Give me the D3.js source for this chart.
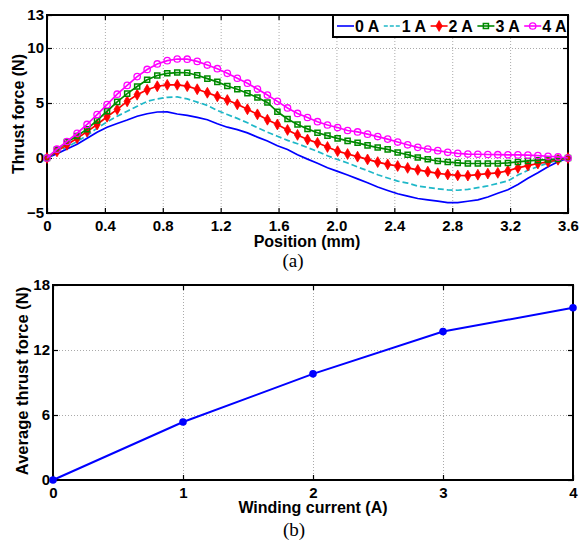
<!DOCTYPE html>
<html>
<head>
<meta charset="utf-8">
<script src="https://cdn.jsdelivr.net/npm/d3@7"></script>
<style>
  body { margin: 0; background: #fff; }
</style>
</head>
<body>
<svg id="chart" width="581" height="542" font-family="Liberation Sans, Arial, sans-serif"></svg>
<script>
// ---- data (a): thrust force vs position, one array per winding current
const positions = [0, 0.069, 0.138, 0.208, 0.277, 0.346, 0.415, 0.485, 0.554, 0.623,
  0.692, 0.762, 0.831, 0.900, 0.969, 1.038, 1.108, 1.177, 1.246, 1.315,
  1.385, 1.454, 1.523, 1.592, 1.662, 1.731, 1.800, 1.869, 1.938, 2.008,
  2.077, 2.146, 2.215, 2.285, 2.354, 2.423, 2.492, 2.562, 2.631, 2.700,
  2.769, 2.838, 2.908, 2.977, 3.046, 3.115, 3.185, 3.254, 3.323, 3.392,
  3.462, 3.531, 3.600];

const force0A = [0, 0.4, 0.82, 1.25, 1.8, 2.35, 2.8, 3.13, 3.45, 3.8,
  4.02, 4.18, 4.2, 4.0, 3.88, 3.7, 3.48, 3.12, 2.8, 2.58,
  2.28, 1.9, 1.55, 1.12, 0.78, 0.3, -0.1, -0.47, -0.88, -1.22,
  -1.55, -1.9, -2.25, -2.63, -2.95, -3.25, -3.47, -3.68, -3.8, -3.92,
  -4.05, -4.05, -3.93, -3.8, -3.55, -3.2, -2.88, -2.4, -1.85, -1.35,
  -0.8, -0.35, 0];

const force1A = [0, 0.5, 1.0, 1.5, 2.05, 2.72, 3.28, 3.8, 4.25, 4.7,
  5.15, 5.37, 5.52, 5.55, 5.37, 5.08, 4.78, 4.33, 3.95, 3.6,
  3.2, 2.75, 2.35, 1.98, 1.6, 1.3, 0.95, 0.6, 0.2, -0.14,
  -0.45, -0.82, -1.15, -1.52, -1.82, -2.1, -2.28, -2.55, -2.68, -2.8,
  -2.9, -2.93, -2.86, -2.7, -2.53, -2.32, -2.08, -1.55, -1.12, -0.78,
  -0.45, -0.2, 0];

const force2A = [0, 0.6, 1.2, 1.8, 2.4, 3.05, 3.75, 4.42, 5.15, 5.75,
  6.2, 6.52, 6.65, 6.65, 6.53, 6.25, 5.93, 5.6, 5.27, 4.88,
  4.43, 3.97, 3.48, 3.05, 2.55, 2.1, 1.68, 1.38, 1.0, 0.62,
  0.36, 0.12, -0.13, -0.37, -0.58, -0.73, -0.9, -1.08, -1.24, -1.39,
  -1.5, -1.58, -1.6, -1.52, -1.42, -1.35, -1.16, -0.9, -0.69, -0.5,
  -0.35, -0.16, 0];

const force3A = [0, 0.75, 1.45, 2.0, 2.62, 3.42, 4.25, 5.1, 5.85, 6.5,
  7.12, 7.5, 7.7, 7.77, 7.75, 7.52, 7.22, 6.92, 6.55, 6.25,
  5.88, 5.5, 5.05, 4.2, 3.55, 3.05, 2.65, 2.3, 2.03, 1.78,
  1.56, 1.38, 1.15, 0.95, 0.78, 0.5, 0.3, 0.05, -0.12, -0.27,
  -0.37, -0.44, -0.5, -0.5, -0.5, -0.5, -0.45, -0.36, -0.27, -0.2,
  -0.14, -0.08, 0];

const force4A = [0, 0.8, 1.5, 2.25, 3.05, 3.95, 4.85, 5.8, 6.6, 7.4,
  8.05, 8.55, 8.85, 9.0, 8.98, 8.78, 8.45, 8.12, 7.7, 7.25,
  6.8, 6.27, 5.72, 5.15, 4.55, 4.05, 3.68, 3.3, 3.0, 2.77,
  2.5, 2.37, 2.17, 1.95, 1.72, 1.45, 1.2, 0.97, 0.82, 0.67,
  0.52, 0.42, 0.36, 0.34, 0.32, 0.3, 0.29, 0.28, 0.26, 0.22,
  0.16, 0.1, 0];

const seriesNames = ["0 A", "1 A", "2 A", "3 A", "4 A"];
const posTicks = [0, 0.4, 0.8, 1.2, 1.6, 2.0, 2.4, 2.8, 3.2, 3.6];
const posTickLabels = ["0", "0.4", "0.8", "1.2", "1.6", "2.0", "2.4", "2.8", "3.2", "3.6"];
const forceTicks = [-5, 0, 5, 10, 13];

// ---- data (b): average thrust force vs winding current
const currents = [0, 1, 2, 3, 4];
const avgForce = [0, 5.35, 9.8, 13.7, 15.9];
const avgTicks = [0, 6, 12, 18];

const SANS = "Liberation Sans, Arial, sans-serif";
const SERIF = "Liberation Serif, Times New Roman, serif";

const svg = d3.select("#chart");

// matlab-like frame: box, dotted grid, inward ticks on all four sides
function frame(g, x, y, xTicks, yTicks, xFmt) {
  const [x0, x1] = x.range();
  const [y0, y1] = y.range();
  const w = x1 - x0, h = y0 - y1;

  // dotted grid
  g.append("g").attr("transform", `translate(0,${y0})`)
    .call(d3.axisBottom(x).tickValues(xTicks).tickSize(-h).tickFormat(""))
    .call(s => s.select(".domain").remove())
    .selectAll("line").attr("stroke", "#aaa").attr("stroke-dasharray", "1,2");
  g.append("g").attr("transform", `translate(${x0},0)`)
    .call(d3.axisLeft(y).tickValues(yTicks).tickSize(-w).tickFormat(""))
    .call(s => s.select(".domain").remove())
    .selectAll("line").attr("stroke", "#aaa").attr("stroke-dasharray", "1,2");

  const xa = g.append("g").attr("transform", `translate(0,${y0})`)
    .call(d3.axisBottom(x).tickValues(xTicks).tickSize(-5).tickPadding(7).tickFormat(xFmt));
  const ya = g.append("g").attr("transform", `translate(${x0},0)`)
    .call(d3.axisLeft(y).tickValues(yTicks).tickSize(-5).tickPadding(3));
  const xt = g.append("g").attr("transform", `translate(0,${y1})`)
    .call(d3.axisTop(x).tickValues(xTicks).tickSize(-5).tickFormat(""));
  const yr = g.append("g").attr("transform", `translate(${x1},0)`)
    .call(d3.axisRight(y).tickValues(yTicks).tickSize(-5).tickFormat(""));

  [xa, ya, xt, yr].forEach(a => {
    a.attr("font-family", SANS).attr("font-size", 15);
    a.select(".domain").remove();
    a.selectAll("line").attr("stroke", "#000").attr("stroke-width", 1.2);
    a.selectAll("text").attr("font-weight", "bold").attr("fill", "#000");
  });

  g.append("rect")
    .attr("x", x0).attr("y", y1).attr("width", w).attr("height", h)
    .attr("fill", "none").attr("stroke", "#000").attr("stroke-width", 2);
}

// ================= chart (a) =================
const xA = d3.scaleLinear().domain([0, 3.6]).range([47, 568]);
const yA = d3.scaleLinear().domain([-5, 13]).range([213, 15]);

const gA = svg.append("g");
frame(gA, xA, yA, posTicks, forceTicks, (d, i) => posTickLabels[i]);

const styles = [
  { color: "#0000ff", dash: null, marker: null },
  { color: "#1fb8c8", dash: "6,3", marker: null },
  { color: "#ff0000", dash: null, marker: "diamond" },
  { color: "#008a00", dash: null, marker: "square" },
  { color: "#ff00ff", dash: null, marker: "circle" }
];
const allForces = [force0A, force1A, force2A, force3A, force4A];

const line = d3.line().x(d => xA(d[0])).y(d => yA(d[1]));

function drawMarker(sel, st) {
  if (st.marker === "circle") {
    sel.append("circle").attr("r", 3.2)
      .attr("fill", "none").attr("stroke", st.color).attr("stroke-width", 1.3);
  } else if (st.marker === "square") {
    sel.append("path").attr("d", d3.symbol(d3.symbolSquare, 26)())
      .attr("fill", "none").attr("stroke", st.color).attr("stroke-width", 1.5);
  } else if (st.marker === "diamond") {
    sel.append("path").attr("d", d3.symbol(d3.symbolDiamond, 34)())
      .attr("fill", st.color).attr("stroke", st.color).attr("stroke-width", 0.8);
  }
}

allForces.forEach((vals, k) => {
  const st = styles[k];
  const pts = positions.map((p, i) => [p, vals[i]]);
  gA.append("path")
    .attr("d", line(pts))
    .attr("fill", "none")
    .attr("stroke", st.color)
    .attr("stroke-width", 1.7)
    .attr("stroke-dasharray", st.dash);
  if (st.marker) {
    gA.append("g").selectAll("g")
      .data(pts).join("g")
      .attr("transform", d => `translate(${xA(d[0])},${yA(d[1])})`)
      .each(function () { drawMarker(d3.select(this), st); });
  }
});

// legend
const legend = gA.append("g");
legend.append("rect")
  .attr("x", 333).attr("y", 15).attr("width", 235).attr("height", 22)
  .attr("fill", "#fff").attr("stroke", "#000").attr("stroke-width", 2);
seriesNames.forEach((name, k) => {
  const st = styles[k];
  const lx = 337 + k * 46.8;
  const item = legend.append("g");
  item.append("line")
    .attr("x1", lx).attr("x2", lx + 17).attr("y1", 26).attr("y2", 26)
    .attr("stroke", st.color).attr("stroke-width", 1.6)
    .attr("stroke-dasharray", st.dash ? "4,2" : null);
  if (st.marker) drawMarker(item.append("g").attr("transform", `translate(${lx + 8.5},26)`), st);
  item.append("text")
    .attr("x", lx + 18).attr("y", 32)
    .attr("font-size", 16).attr("font-weight", "bold")
    .text(name);
});

gA.append("text")
  .attr("transform", "translate(24,114) rotate(-90)")
  .attr("text-anchor", "middle")
  .attr("font-size", 16).attr("font-weight", "bold")
  .text("Thrust force (N)");
gA.append("text")
  .attr("x", 307).attr("y", 247)
  .attr("text-anchor", "middle")
  .attr("font-size", 16).attr("font-weight", "bold")
  .text("Position (mm)");
gA.append("text")
  .attr("x", 293).attr("y", 267)
  .attr("text-anchor", "middle")
  .attr("font-size", 19)
  .attr("font-family", SERIF)
  .text("(a)");

// ================= chart (b) =================
const xB = d3.scaleLinear().domain([0, 4]).range([53, 573]);
const yB = d3.scaleLinear().domain([0, 18]).range([480, 285]);

const gB = svg.append("g");
frame(gB, xB, yB, currents, avgTicks, d3.format("d"));

const ptsB = currents.map((c, i) => [c, avgForce[i]]);
gB.append("path")
  .attr("d", d3.line().x(d => xB(d[0])).y(d => yB(d[1]))(ptsB))
  .attr("fill", "none").attr("stroke", "#0000ff").attr("stroke-width", 2);
gB.append("g").selectAll("circle")
  .data(ptsB).join("circle")
  .attr("cx", d => xB(d[0])).attr("cy", d => yB(d[1]))
  .attr("r", 3.8).attr("fill", "#0000ff");

gB.append("text")
  .attr("transform", "translate(28,381) rotate(-90)")
  .attr("text-anchor", "middle")
  .attr("font-size", 16.5).attr("font-weight", "bold")
  .text("Average thrust force (N)");
gB.append("text")
  .attr("x", 313).attr("y", 513)
  .attr("text-anchor", "middle")
  .attr("font-size", 16).attr("font-weight", "bold")
  .text("Winding current (A)");
gB.append("text")
  .attr("x", 294).attr("y", 536)
  .attr("text-anchor", "middle")
  .attr("font-size", 19)
  .attr("font-family", SERIF)
  .text("(b)");
</script>
</body>
</html>
